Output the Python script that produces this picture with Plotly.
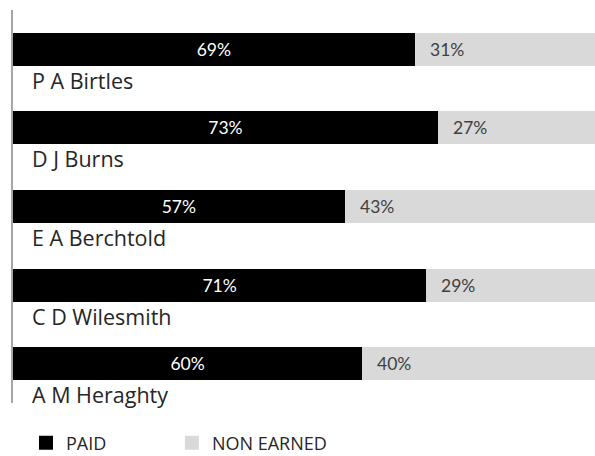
import plotly.graph_objects as go

names = ["P A Birtles", "D J Burns", "E A Berchtold", "C D Wilesmith", "A M Heraghty"]
paid = [69, 73, 57, 71, 60]
non_earned = [31, 27, 43, 29, 40]
series_names = ["PAID", "NON EARNED"]
series_colors = ["#000000", "#d9d9d9"]

idx = list(range(len(names)))
NAME_FONT = "Open Sans"
VAL_FONT = "Lato"

fig = go.Figure()
fig.add_trace(go.Bar(
    y=idx, x=paid, orientation="h", name=series_names[0], showlegend=False,
    marker=dict(color=series_colors[0], line=dict(width=0)),
    text=[f"{v}%" for v in paid], textposition="inside", insidetextanchor="middle",
    textfont=dict(color="#ffffff", size=17.5, family=VAL_FONT),
    width=0.42, hoverinfo="skip",
))
fig.add_trace(go.Bar(
    y=idx, x=non_earned, orientation="h", name=series_names[1], showlegend=False,
    marker=dict(color=series_colors[1], line=dict(width=0)),
    width=0.42, hoverinfo="skip",
))
# legend entries (square markers), one legend box per entry
for nm, col, lg in zip(series_names, series_colors, ["legend", "legend2"]):
    fig.add_trace(go.Scatter(
        x=[None], y=[None], mode="markers", name=nm, legend=lg,
        marker=dict(symbol="square", size=14, color=col),
    ))

annotations = []
for i, (n, p, ne) in enumerate(zip(names, paid, non_earned)):
    annotations.append(dict(x=0, y=i, xref="x", yref="y", text=n, showarrow=False,
                            xanchor="left", yanchor="middle", xshift=17, yshift=-31,
                            font=dict(size=21.5, color="#262626", family=NAME_FONT)))
    annotations.append(dict(x=p, y=i, xref="x", yref="y", text=f"{ne}%", showarrow=False,
                            xanchor="left", yanchor="middle", xshift=13,
                            font=dict(size=17.5, color="#404040", family=VAL_FONT)))

legend_common = dict(orientation="h", xanchor="left", y=-0.055, yanchor="top",
                     font=dict(size=18, color="#262626", family="Open Sans"),
                     bgcolor="rgba(0,0,0,0)")

fig.update_layout(
    barmode="stack",
    width=595, height=456,
    autosize=False,
    margin=dict(l=13, r=0, t=10, b=53, autoexpand=False),
    plot_bgcolor="white", paper_bgcolor="white",
    xaxis=dict(range=[0, 100], visible=False, fixedrange=True),
    yaxis=dict(range=[4.5, -0.5], showticklabels=False, showgrid=False, zeroline=False,
               showline=True, linecolor="#a6a6a6", linewidth=1.5, ticks="", fixedrange=True),
    showlegend=True,
    legend=dict(x=0.0223, **legend_common),
    legend2=dict(x=0.273, **legend_common),
    annotations=annotations,
)

fig.write_html(
    "out.html",
    config={"displayModeBar": False},
    post_script="document.body.style.margin='0';document.body.style.overflow='hidden';",
)
